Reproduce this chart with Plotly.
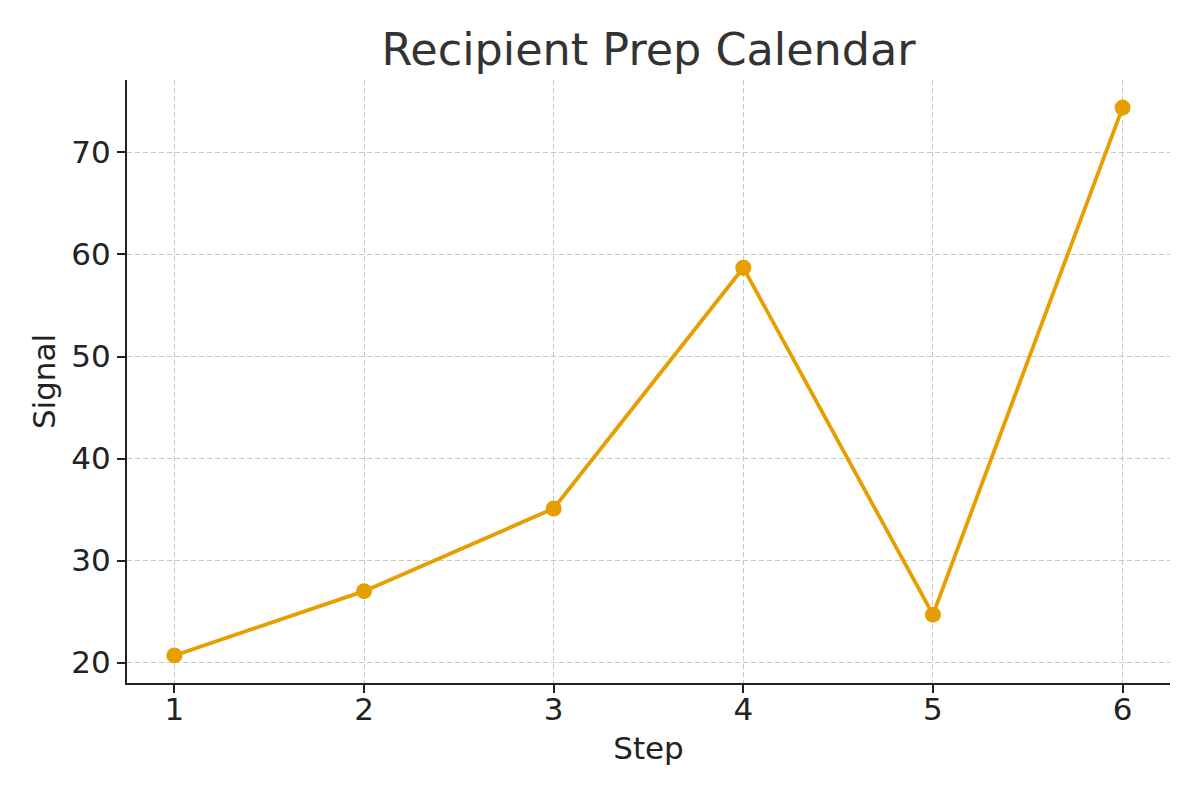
import plotly.graph_objects as go

steps = [1, 2, 3, 4, 5, 6]
signal = [20.7, 27.0, 35.1, 58.7, 24.7, 74.4]
x_ticks = [1, 2, 3, 4, 5, 6]
y_ticks = [20, 30, 40, 50, 60, 70]

fig = go.Figure()
fig.add_trace(go.Scatter(
    x=steps, y=signal, mode="lines+markers",
    line=dict(color="#E69F00", width=3.8),
    marker=dict(color="#E69F00", size=16),
    showlegend=False,
))

font_family = "DejaVu Sans"
fig.update_layout(
    width=1200, height=800,
    paper_bgcolor="white", plot_bgcolor="white",
    margin=dict(l=119, r=38, t=72, b=125),
    title=dict(text="Recipient Prep Calendar", x=0.5, xanchor="center",
               xref="paper",
               y=0.948, yanchor="middle", yref="container",
               font=dict(family=font_family, size=44.5, color="#333333")),
    font=dict(family=font_family, color="#222222"),
)
axis_common = dict(
    showline=True, linecolor="#222222", linewidth=2,
    ticks="outside", ticklen=8, tickwidth=2, tickcolor="#222222",
    showgrid=True, gridcolor="#c8c8c8", gridwidth=1.2, griddash="5px,3px",
    zeroline=False, mirror=False,
    tickfont=dict(family=font_family, size=31, color="#222222"),
)
fig.update_xaxes(
    range=[0.75, 6.25], tickvals=x_ticks, ticklabelstandoff=-10,
    title=dict(text="Step", font=dict(family=font_family, size=31, color="#222222"), standoff=11),
    **axis_common,
)
fig.update_yaxes(
    range=[18.0, 77.1], tickvals=y_ticks,
    title=dict(text="Signal", font=dict(family=font_family, size=31, color="#222222"), standoff=6),
    **axis_common,
)

fig.write_html("out.html")
